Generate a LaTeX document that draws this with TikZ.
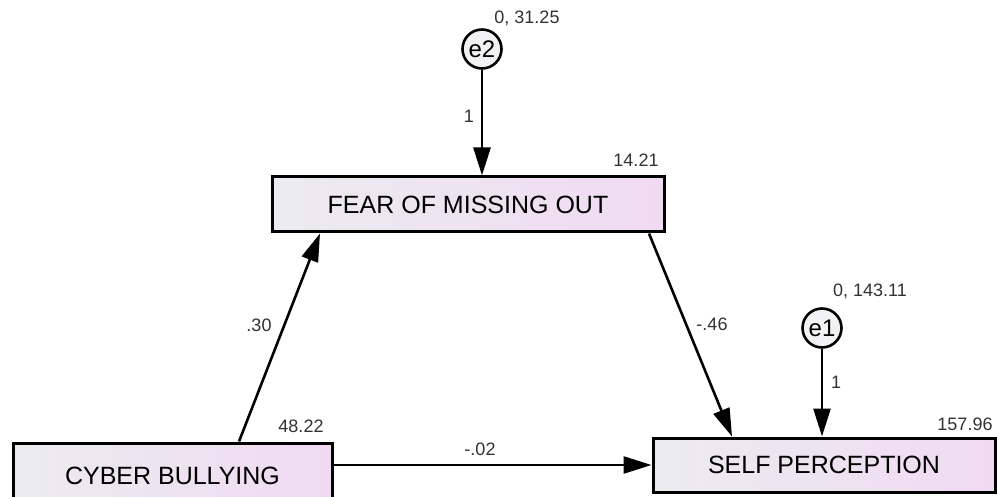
\documentclass[tikz,border=0pt]{standalone}
\usepackage{fontspec}
\setmainfont{Liberation Sans}
\usetikzlibrary{arrows.meta,calc}
\definecolor{boxL}{RGB}{236,236,240}
\definecolor{boxR}{RGB}{240,218,242}
\definecolor{circF}{RGB}{242,242,244}
\definecolor{numC}{RGB}{50,50,50}
\tikzset{
  varbox/.style={draw=black,line width=3pt,left color=boxL,right color=boxR,inner sep=0pt,font=\fontsize{25}{29}\selectfont},
  errc/.style={draw=black,line width=2.6pt,fill=circF,circle,minimum size=39pt,inner sep=0pt,font=\fontsize{24}{28}\selectfont},
  path/.style={line width=2.6pt,-{Triangle[length=28pt,width=17pt]}},
  num/.style={text=numC,font=\fontsize{18}{21}\selectfont,inner sep=0pt}
}
\begin{document}
\begin{tikzpicture}[x=1pt,y=-1pt]
\clip (0,0) rectangle (997,497);
\fill[white] (0,0) rectangle (997,497);
\node[varbox,minimum width=392pt,minimum height=55pt] (fomo) at (468,204.5) {FEAR OF MISSING OUT};
\node[varbox,minimum width=342pt,minimum height=54pt] (sp) at (824,465) {SELF PERCEPTION};
\node[varbox,minimum width=319pt,minimum height=66pt] (cb) at (172.5,476) {CYBER BULLYING};
\node[errc] (e2) at (482,49) {e2};
\node[errc] (e1) at (822,328) {e1};
% labels
\node[num] (l1) at (527,18) {0, 31.25};
\node[num] (l2) at (469,116) {1};
\node[num] (l3) at (636,160) {14.21};
\node[num] (l4) at (870,291) {0, 143.11};
\node[num] (l5) at (836,382) {1};
\node[num] (l6) at (965,424) {157.96};
\node[num] (l7) at (301,426) {48.22};
\node[num] (l8) at (259,325) {.30};
\node[num] (l9) at (712,324) {-.46};
\node[num] (l10) at (480,449) {-.02};
% connectors
\draw[path] (e2) -- (e2 |- fomo.north);
\draw[path] (e1) -- (e1 |- sp.north);
\draw[path] ([xshift=66.5pt]cb.north) -- ([xshift=-148pt]fomo.south);
\draw[path] ([xshift=181pt]fomo.south) -- ([xshift=-92pt]sp.north);
\draw[path] (sp.west -| cb.east) -- (sp.west);
\end{tikzpicture}
\end{document}
